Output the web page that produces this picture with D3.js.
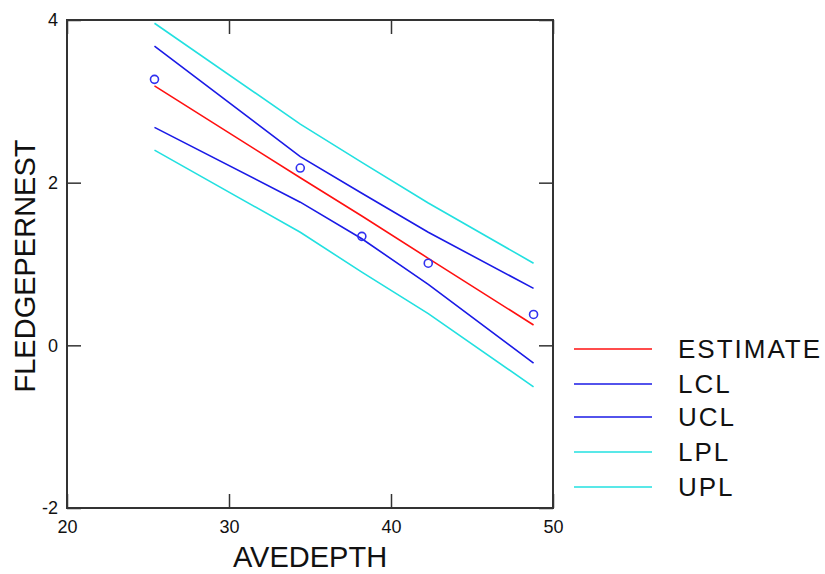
<!DOCTYPE html>
<html>
<head>
<meta charset="utf-8">
<script src="https://cdn.jsdelivr.net/npm/d3@7"></script>
<style>
  body { margin: 0; background: #fff; }
  text { font-family: "Liberation Sans", Arial, sans-serif; fill: #111; }
</style>
</head>
<body>
<div id="chart"></div>
<script>
// data
var depth    = [25.4, 34.4, 38.2, 42.3, 48.8];
var fledge   = [3.27, 2.18, 1.34, 1.01, 0.38];
var estimate = [3.19, 2.06, 1.59, 1.07, 0.25];
var lcl      = [2.68, 1.76, 1.31, 0.75, -0.22];
var ucl      = [3.68, 2.32, 1.87, 1.39, 0.70];
var lpl      = [2.40, 1.39, 0.90, 0.39, -0.51];
var upl      = [3.96, 2.72, 2.25, 1.75, 1.01];
var seriesNames = ["ESTIMATE", "LCL", "UCL", "LPL", "UPL"];
var xTicks = [20, 30, 40, 50];
var yTicks = [-2, 0, 2, 4];

var colors = {ESTIMATE: "#ff1010", LCL: "#1a1ae6", UCL: "#1a1ae6", LPL: "#22e0e0", UPL: "#22e0e0"};
var seriesValues = {ESTIMATE: estimate, LCL: lcl, UCL: ucl, LPL: lpl, UPL: upl};

var width = 825, height = 574;
var plotLeft = 67, plotTop = 20, plotRight = 553, plotBottom = 508;

var svg = d3.select("#chart")
    .append("svg")
    .attr("width", width)
    .attr("height", height);

var x = d3.scaleLinear().domain([20, 50]).range([plotLeft, plotRight]);
var y = d3.scaleLinear().domain([-2, 4]).range([plotBottom, plotTop]);

// plain hyphen for negatives, like the original
var fmt = function (d) { return String(d); };

// axes with inward ticks
svg.append("g")
    .attr("transform", "translate(0," + plotBottom + ")")
    .call(d3.axisBottom(x).tickValues(xTicks).tickSize(-14).tickPadding(12).tickFormat(fmt));
svg.append("g")
    .attr("transform", "translate(0," + plotTop + ")")
    .call(d3.axisTop(x).tickValues(xTicks).tickSize(-14).tickFormat(""));
svg.append("g")
    .attr("transform", "translate(" + plotLeft + ",0)")
    .call(d3.axisLeft(y).tickValues(yTicks).tickSize(-14).tickPadding(9).tickFormat(fmt));
svg.append("g")
    .attr("transform", "translate(" + plotRight + ",0)")
    .call(d3.axisRight(y).tickValues(yTicks).tickSize(-14).tickFormat(""));

svg.selectAll(".domain").remove();
svg.selectAll(".tick line").attr("stroke", "#333").attr("stroke-width", 1.5);
svg.selectAll(".tick text")
    .style("font-size", "18px")
    .attr("fill", "#222");

// frame
svg.append("rect")
    .attr("x", plotLeft).attr("y", plotTop)
    .attr("width", plotRight - plotLeft).attr("height", plotBottom - plotTop)
    .attr("fill", "none").attr("stroke", "#333").attr("stroke-width", 2);

// lines
var line = d3.line()
    .x(function (d, i) { return x(depth[i]); })
    .y(function (d) { return y(d); });

seriesNames.slice().reverse().forEach(function (name) {
    svg.append("path")
        .datum(seriesValues[name])
        .attr("d", line)
        .attr("fill", "none")
        .attr("stroke", colors[name])
        .attr("stroke-width", 1.6);
});

// observed points
svg.selectAll(".pt")
    .data(fledge)
    .enter()
    .append("circle")
    .attr("cx", function (d, i) { return x(depth[i]); })
    .attr("cy", function (d) { return y(d); })
    .attr("r", 4)
    .attr("fill", "none")
    .attr("stroke", "#3030f0")
    .attr("stroke-width", 1.6);

// axis titles
svg.append("text")
    .attr("x", 310).attr("y", 567)
    .attr("text-anchor", "middle")
    .style("font-size", "29px")
    .text("AVEDEPTH");

svg.append("text")
    .attr("transform", "translate(35,266) rotate(-90)")
    .attr("text-anchor", "middle")
    .style("font-size", "29px")
    .text("FLEDGEPERNEST");

// legend
var legendY = [349, 384, 417, 452, 487];
var legend = svg.selectAll(".leg")
    .data(seriesNames)
    .enter()
    .append("g")
    .attr("transform", function (d, i) { return "translate(0," + legendY[i] + ")"; });

legend.append("line")
    .attr("x1", 574).attr("x2", 652)
    .attr("stroke", function (d) { return colors[d]; })
    .attr("stroke-width", 1.6);

legend.append("text")
    .attr("x", 678)
    .attr("dy", "0.36em")
    .style("font-size", "26px")
    .style("letter-spacing", "2px")
    .text(function (d) { return d; });
</script>
</body>
</html>
